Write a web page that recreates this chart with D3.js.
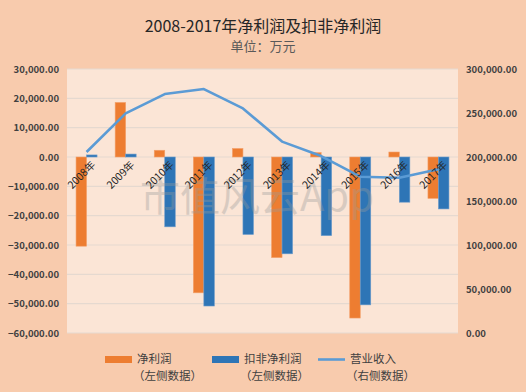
<!DOCTYPE html>
<html>
<head>
<meta charset="utf-8">
<script src="https://cdn.jsdelivr.net/npm/d3@7/dist/d3.min.js"></script>
<style>
  html, body { margin: 0; padding: 0; background: #F8CBAD; }
  svg { display: block; }
  text { font-family: "Noto Sans CJK SC", "Liberation Sans", sans-serif; }
</style>
</head>
<body>
<div id="chart"></div>
<script>
// Data (万元)
var years = ["2008年", "2009年", "2010年", "2011年", "2012年", "2013年", "2014年", "2015年", "2016年", "2017年"];
var netProfit = [-30400, 18600, 2300, -46300, 2900, -34300, 1500, -54900, 1700, -14100];
var adjProfit = [700, 1000, -23800, -50800, -26400, -33000, -26800, -50400, -15400, -17700];
var revenue = [205700, 249500, 271500, 277200, 255200, 217500, 201100, 177600, 176500, 186000];
var leftTicks = [30000, 20000, 10000, 0, -10000, -20000, -30000, -40000, -50000, -60000];
var rightTicks = [300000, 250000, 200000, 150000, 100000, 50000, 0];

var W = 526, H = 392;
var margin = { top: 69, right: 68, bottom: 59, left: 67 };
var width = W - margin.left - margin.right;
var height = H - margin.top - margin.bottom;

var svg = d3.select("#chart").append("svg")
    .attr("width", W)
    .attr("height", H);

svg.append("rect").attr("width", W).attr("height", H).attr("fill", "#F8CBAD");

// Titles
svg.append("text")
    .attr("x", W / 2).attr("y", 32)
    .attr("text-anchor", "middle")
    .attr("font-size", "16px")
    .attr("fill", "#262626")
    .text("2008-2017年净利润及扣非净利润");
svg.append("text")
    .attr("x", W / 2).attr("y", 51)
    .attr("text-anchor", "middle")
    .attr("font-size", "13px")
    .attr("fill", "#595959")
    .text("单位：万元");

var g = svg.append("g")
    .attr("transform", "translate(" + margin.left + "," + margin.top + ")");

g.append("rect").attr("width", width).attr("height", height).attr("fill", "#FBE5D6");

var x = d3.scaleBand().domain(years).range([0, width]);
var yL = d3.scaleLinear().domain([-60000, 30000]).range([height, 0]);
var yR = d3.scaleLinear().domain([0, 300000]).range([height, 0]);

// Gridlines
g.append("g").selectAll("line").data(leftTicks).enter().append("line")
    .attr("x1", 0).attr("x2", width)
    .attr("y1", function (d) { return yL(d); })
    .attr("y2", function (d) { return yL(d); })
    .attr("stroke", "#E5D9D0")
    .attr("stroke-width", 1.2);

// Axes (labels only)
var fmt = d3.format(",.2f");
var leftAxis = g.append("g")
    .call(d3.axisLeft(yL).tickValues(leftTicks).tickFormat(fmt).tickSize(0).tickPadding(8));
var rightAxis = g.append("g")
    .attr("transform", "translate(" + width + ",0)")
    .call(d3.axisRight(yR).tickValues(rightTicks).tickFormat(fmt).tickSize(0).tickPadding(8));
[leftAxis, rightAxis].forEach(function (a) {
    a.select(".domain").remove();
    a.selectAll("text")
        .attr("font-family", "'DejaVu Sans', sans-serif")
        .attr("font-size", "9.5px")
        .attr("font-weight", "bold")
        .attr("fill", "#404040");
});

// Bars
var bw = 10.5;
var cx = function (d) { return x(d) + x.bandwidth() / 2; };

g.append("g").selectAll("rect").data(years).enter().append("rect")
    .attr("x", function (d) { return cx(d) - bw; })
    .attr("y", function (d, i) { return yL(Math.max(0, netProfit[i])); })
    .attr("width", bw)
    .attr("height", function (d, i) { return Math.abs(yL(netProfit[i]) - yL(0)); })
    .attr("fill", "#ED7D31")
    .attr("stroke", "#F3A06A").attr("stroke-width", 0.6);

g.append("g").selectAll("rect").data(years).enter().append("rect")
    .attr("x", function (d) { return cx(d); })
    .attr("y", function (d, i) { return yL(Math.max(0, adjProfit[i])); })
    .attr("width", bw)
    .attr("height", function (d, i) { return Math.abs(yL(adjProfit[i]) - yL(0)); })
    .attr("fill", "#2E75B6")
    .attr("stroke", "#6A9BCB").attr("stroke-width", 0.6);

// Watermark
g.append("text")
    .attr("x", 190).attr("y", 142)
    .attr("text-anchor", "middle")
    .attr("font-size", "40px")
    .attr("font-family", "'Noto Sans CJK SC', sans-serif")
    .attr("fill", "#9a9a9a")
    .attr("opacity", 0.35)
    .text("市值风云App");

// Revenue line
var line = d3.line()
    .x(function (d, i) { return cx(years[i]); })
    .y(function (d) { return yR(d); });
g.append("path")
    .datum(revenue)
    .attr("d", line)
    .attr("fill", "none")
    .attr("stroke", "#5B9BD5")
    .attr("stroke-width", 2.6)
    .attr("stroke-linejoin", "round");

// Category labels
g.append("g").selectAll("text").data(years).enter().append("text")
    .attr("transform", function (d) {
        return "translate(" + (cx(d) + 4) + "," + (yL(0) + 3) + ") rotate(-45)";
    })
    .attr("text-anchor", "end")
    .attr("dy", "0.75em")
    .attr("font-size", "10.5px")
    .attr("fill", "#262626")
    .text(function (d) { return d; });

// Legend
var legend = [
    { name: "净利润", sub: "（左侧数据）", color: "#ED7D31", type: "rect", x: 105 },
    { name: "扣非净利润", sub: "（左侧数据）", color: "#2E75B6", type: "rect", x: 212 },
    { name: "营业收入", sub: "（右侧数据）", color: "#5B9BD5", type: "line", x: 318 }
];
var lg = svg.append("g");
legend.forEach(function (d) {
    if (d.type === "rect") {
        lg.append("rect").attr("x", d.x).attr("y", 356).attr("width", 27).attr("height", 7).attr("fill", d.color);
    } else {
        lg.append("line").attr("x1", d.x).attr("x2", d.x + 27).attr("y1", 359.5).attr("y2", 359.5)
            .attr("stroke", d.color).attr("stroke-width", 2.6);
    }
    lg.append("text").attr("x", d.x + 32).attr("y", 363)
        .attr("font-size", "11.5px").attr("fill", "#404040").text(d.name);
    lg.append("text").attr("x", d.x + 28).attr("y", 380)
        .attr("font-size", "11.5px").attr("fill", "#404040").text(d.sub);
});
</script>
</body>
</html>
